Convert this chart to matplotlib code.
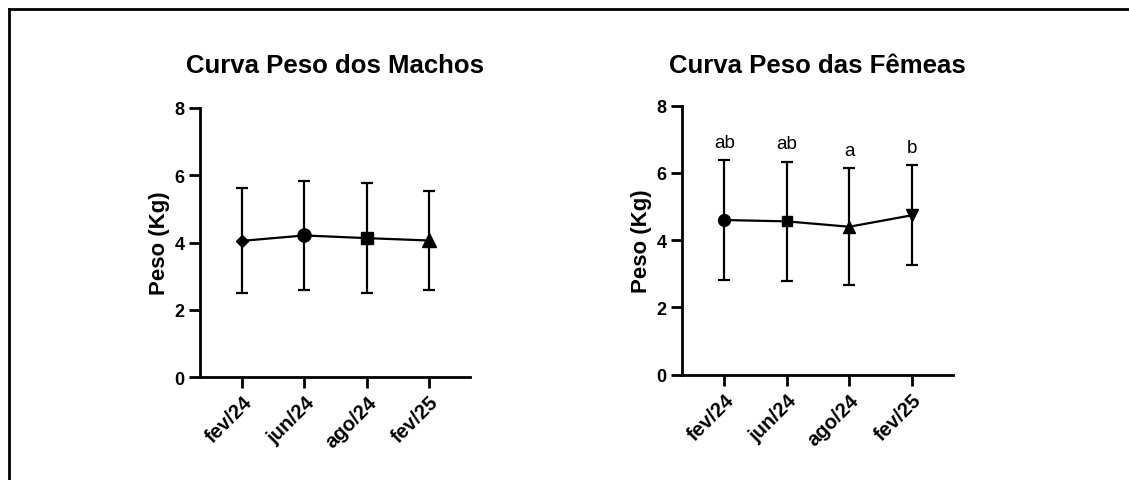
import matplotlib
matplotlib.use('Agg')
import matplotlib.pyplot as plt
from matplotlib.lines import Line2D
import matplotlib.transforms as mtransforms

plt.rcParams['font.family'] = ['Liberation Sans', 'DejaVu Sans']

meses = ['fev/24', 'jun/24', 'ago/24', 'fev/25']

# machos: media e desvio
machos_media = [4.05, 4.21, 4.13, 4.06]
machos_dp = [1.56, 1.63, 1.64, 1.47]
machos_marc = ['D', 'o', 's', '^']
machos_tam = [6, 9.5, 8, 9.5]

# femeas
femeas_media = [4.60, 4.56, 4.40, 4.74]
femeas_dp = [1.77, 1.78, 1.74, 1.49]
femeas_marc = ['o', 's', '^', 'v']
femeas_tam = [8.5, 7.5, 8.5, 8.5]
femeas_letras = ['ab', 'ab', 'a', 'b']

fig = plt.figure(figsize=(11.29, 4.81), dpi=100)

# moldura (so topo e esquerda aparecem no recorte)
fig.add_artist(Line2D([9/1129, 9/1129], [0, 1 - 10/481], color='black', lw=2, transform=fig.transFigure))
fig.add_artist(Line2D([9/1129, 1], [1 - 10/481, 1 - 10/481], color='black', lw=2, transform=fig.transFigure))


def painel(ax, media, dp, marcadores, tamanhos, titulo, letras=None):
    x = list(range(len(media)))
    ax.plot(x, media, color='black', lw=1.6, zorder=2)
    for i in x:
        ax.errorbar(i, media[i], yerr=dp[i], fmt=marcadores[i], color='black',
                    ms=tamanhos[i], elinewidth=1.6, capsize=4.5, capthick=1.6, zorder=3)
    if letras:
        for i in x:
            ax.text(i, media[i] + dp[i] + 0.4, letras[i], ha='center', va='baseline',
                    fontsize=13.5)
    ax.set_xlim(-0.68, 3.66)
    ax.set_ylim(0, 8)
    ax.set_yticks([0, 2, 4, 6, 8])
    ax.set_xticks(x)
    ax.set_xticklabels(meses, rotation=45, ha='right', rotation_mode='anchor',
                       fontsize=14.5, fontweight='bold')
    off = mtransforms.ScaledTranslation(5/100, -4/100, fig.dpi_scale_trans)
    for lab in ax.get_xticklabels():
        lab.set_transform(lab.get_transform() + off)
    for lab in ax.get_yticklabels():
        lab.set_fontsize(13)
        lab.set_fontweight('bold')
    ax.spines['top'].set_visible(False)
    ax.spines['right'].set_visible(False)
    ax.spines['left'].set_linewidth(2)
    ax.spines['bottom'].set_linewidth(2)
    ax.tick_params(axis='both', length=8, width=2, pad=3)
    ax.set_ylabel('Peso (Kg)', fontsize=16, fontweight='bold', labelpad=3)
    pos = ax.get_position()
    fig.text((pos.x0 + pos.x1) / 2, 1 - 73/481, titulo, ha='center', va='baseline',
             fontsize=18.5, fontweight='bold')


ax1 = fig.add_axes([0.1771, 0.2141, 0.2392, 0.5593])
painel(ax1, machos_media, machos_dp, machos_marc, machos_tam, 'Curva Peso dos Machos')

ax2 = fig.add_axes([0.6038, 0.2189, 0.2403, 0.5593])
painel(ax2, femeas_media, femeas_dp, femeas_marc, femeas_tam, 'Curva Peso das Fêmeas', femeas_letras)

fig.savefig('out.png', dpi=100)
